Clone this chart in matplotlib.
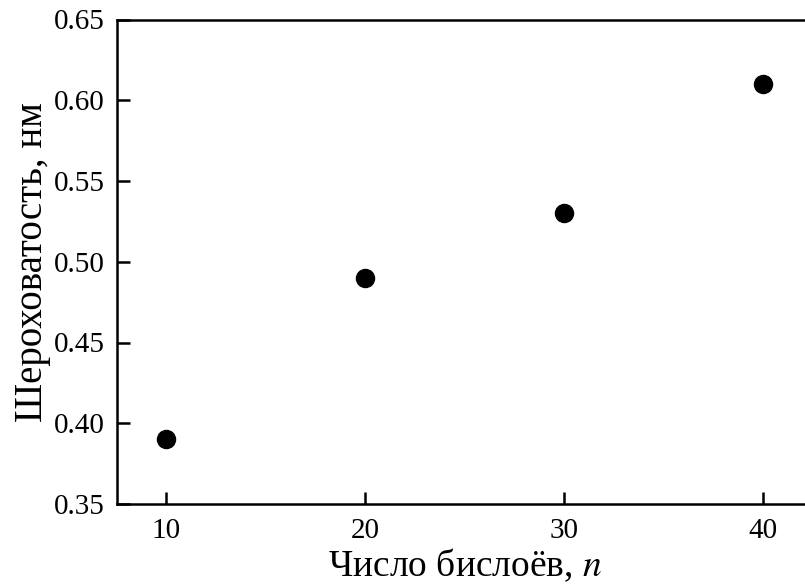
import matplotlib
matplotlib.use('Agg')
import matplotlib.pyplot as plt

# number of bilayers vs roughness
n_bilayers = [10, 20, 30, 40]
roughness = [0.39, 0.49, 0.53, 0.61]
x_ticks = [10, 20, 30, 40]
y_ticks = [0.35, 0.40, 0.45, 0.50, 0.55, 0.60, 0.65]

plt.rcParams['font.family'] = ['Liberation Serif', 'DejaVu Serif']
plt.rcParams['mathtext.fontset'] = 'stix'

fig = plt.figure(figsize=(8.05, 5.87), dpi=100)
ax = fig.add_axes([117 / 805, 1 - 504 / 587, (812.75 - 117) / 805, (504 - 19.5) / 587])

ax.plot(n_bilayers, roughness, 'o', color='black', markersize=13, clip_on=False)

ax.set_xlim(7.54, 42.5)
ax.set_ylim(0.35, 0.65)
ax.set_xticks(x_ticks)
ax.set_yticks(y_ticks)
ax.set_yticklabels([f'{v:.2f}' for v in y_ticks])
ax.tick_params(direction='in', length=9, width=1.8, labelsize=21,
               top=False, right=False)
ax.tick_params(axis='x', pad=10)
ax.tick_params(axis='y', pad=9)
for s in ax.spines.values():
    s.set_linewidth(1.8)

ax.set_xlabel('Число бислоёв, $\\mathit{n}$', fontsize=27, labelpad=2)
ax.set_ylabel('Шероховатость, нм', fontsize=28, labelpad=2)

fig.savefig('out.png', dpi=100)
